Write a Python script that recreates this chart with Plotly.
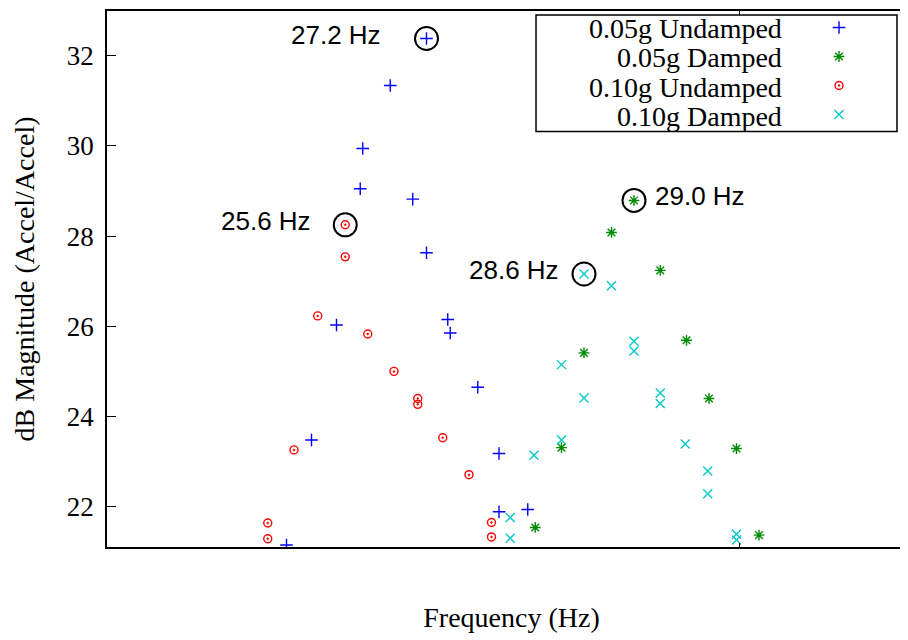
import plotly.graph_objects as go

# series values
names = ['0.05g Undamped', '0.05g Damped', '0.10g Undamped', '0.10g Damped']

u05_freq = [26.38, 26.58, 26.78, 26.97, 26.99, 27.21, 27.39, 27.50, 27.50, 27.67, 27.69, 27.91, 28.08, 28.08, 28.31]
u05_db = [21.15, 23.48, 26.03, 29.05, 29.94, 31.34, 28.82, 32.38, 27.63, 26.15, 25.85, 24.65, 23.18, 21.89, 21.94]

d05_freq = [28.37, 28.58, 28.76, 28.98, 29.16, 29.37, 29.58, 29.76, 29.98, 30.16]
d05_db = [21.54, 23.31, 25.41, 28.08, 28.79, 27.24, 25.69, 24.40, 23.29, 21.37]

u10_freq = [26.23, 26.23, 26.44, 26.63, 26.85, 26.85, 27.03, 27.24, 27.43, 27.43, 27.63, 27.84, 28.02, 28.02]
u10_db = [21.64, 21.29, 23.26, 26.23, 28.25, 27.54, 25.83, 25.00, 24.40, 24.27, 23.53, 22.71, 21.65, 21.33]

d10_freq = [28.17, 28.17, 28.36, 28.58, 28.58, 28.76, 28.76, 28.98, 29.16, 29.16, 29.37, 29.37, 29.57, 29.75, 29.75, 29.98, 29.98]
d10_db = [21.76, 21.30, 23.14, 25.15, 23.48, 27.16, 24.41, 26.90, 25.67, 25.45, 24.52, 24.29, 23.39, 22.79, 22.29, 21.39, 21.26]

peak_labels = ['27.2 Hz', '29.0 Hz', '25.6 Hz', '28.6 Hz']
y_ticks = [22, 24, 26, 28, 30, 32]
x_ticks = [30]
x_range = [24.944, 31.416]
y_range = [21.107, 32.99]

serif = 'Liberation Serif'
sans = 'Liberation Sans'

series = [
    (u05_freq, u05_db, 'cross-thin-open', 'blue', 9),
    (d05_freq, d05_db, 'asterisk-open', '#008a00', 9),
    (u10_freq, u10_db, 'circle-open-dot', 'red', 8),
    (d10_freq, d10_db, 'x-thin-open', '#00c8c8', 9),
]
# label placement: (xanchor, xshift)
label_pos = [('right', -44), ('left', 19), ('right', -32), ('right', -23)]

fig = go.Figure()

for i in range(len(series)):
    fx, fy, sym, col, sz = series[i]
    fig.add_trace(go.Scatter(x=fx, y=fy, mode='markers', name=' ',
                             hovertemplate=names[i] + '<br>%{x} Hz, %{y} dB<extra></extra>',
                             marker=dict(symbol=sym, size=sz, color=col, line=dict(color=col, width=1.4))))

# circle the peak of every series and label it
px, py = [], []
for i in range(len(series)):
    fx, fy = series[i][0], series[i][1]
    k = fy.index(max(fy))
    px.append(fx[k])
    py.append(fy[k])
    fig.add_annotation(x=fx[k], y=fy[k], text=peak_labels[i], showarrow=False,
                       xanchor=label_pos[i][0], xshift=label_pos[i][1], yshift=4,
                       font=dict(family=sans, size=26, color='black'))
fig.add_trace(go.Scatter(x=px, y=py, mode='markers', showlegend=False, hoverinfo='skip',
                         marker=dict(symbol='circle-open', size=23, color='black', line=dict(color='black', width=2))))

# dummy trace so the right-hand tick axis gets drawn
fig.add_trace(go.Scatter(x=[], y=[], yaxis='y2', showlegend=False))

# legend: text right-aligned, symbols on the right (gnuplot style)
row0 = 0.9675
row_step = 0.0548
for i in range(len(names)):
    fig.add_annotation(xref='paper', yref='paper', x=0.8368, y=row0 - i * row_step, text=names[i],
                       showarrow=False, xanchor='right', yanchor='middle',
                       font=dict(family=serif, size=28, color='black'))
fig.add_shape(type='rect', xref='paper', yref='paper', x0=0.5303, x1=0.9765, y0=0.7753, y1=0.9926,
              line=dict(color='black', width=1.5))

fig.update_layout(
    width=908, height=640,
    margin=dict(l=99, r=0, t=0, b=101),
    plot_bgcolor='white', paper_bgcolor='white',
    font=dict(family=serif, size=27, color='black'),
    legend=dict(x=0.8801, y=1.0056, xanchor='left', yanchor='top', bgcolor='rgba(0,0,0,0)',
                borderwidth=0, font=dict(size=20), tracegroupgap=0),
    xaxis=dict(range=x_range, showgrid=False, zeroline=False, showline=True, linecolor='black',
               linewidth=1.5, mirror='ticks', ticks='inside', ticklen=4, tickcolor='black',
               tickvals=x_ticks, showticklabels=False,
               title=dict(text='Frequency (Hz)', standoff=60, font=dict(size=28))),
    yaxis=dict(range=y_range, showgrid=False, zeroline=False, showline=True, linecolor='black',
               linewidth=1.5, ticks='inside', ticklen=9, tickcolor='black', tickvals=y_ticks,
               ticklabelstandoff=6, title=dict(text='dB Magnitude (Accel/Accel)', standoff=24, font=dict(size=28))),
    yaxis2=dict(range=y_range, overlaying='y', side='right', showgrid=False, zeroline=False,
                showline=False, ticks='inside', ticklen=9, tickcolor='black', tickvals=y_ticks,
                showticklabels=False),
)

fig.write_html("out.html")
